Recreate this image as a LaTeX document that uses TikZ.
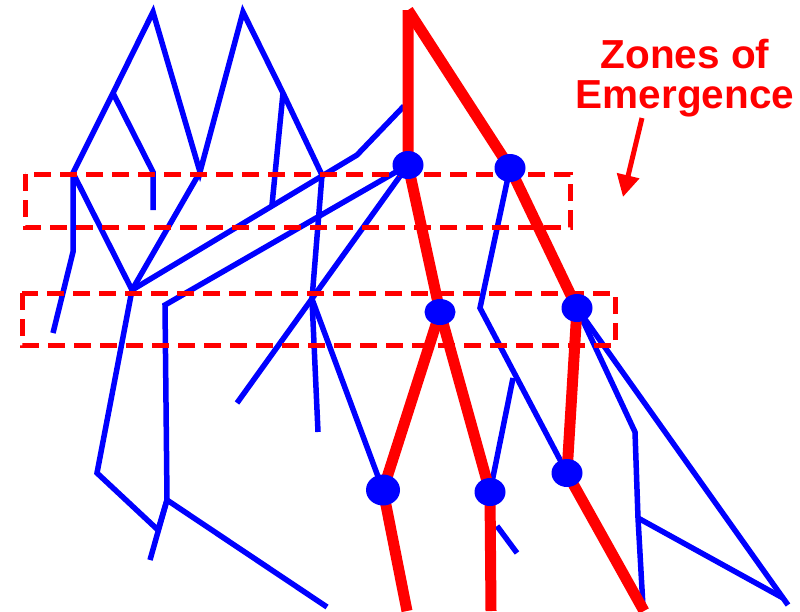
\documentclass[tikz,border=0pt]{standalone}
\usepackage{fontspec}
\setmainfont{Liberation Sans}
\usetikzlibrary{arrows.meta}
\usetikzlibrary{shapes.geometric}
\definecolor{pblue}{RGB}{0,0,255}
\definecolor{pred}{RGB}{255,0,0}
\tikzset{
  bline/.style={draw=pblue, line width=5.5pt},
  rline/.style={draw=pred, line width=11pt},
  zone/.style={draw=pred, line width=5pt, dash pattern=on 17pt off 9pt},
  dot/.style={ellipse, fill=pblue, inner sep=0pt, minimum width=31pt, minimum height=28pt},
  bigdot/.style={dot, minimum width=34pt, minimum height=31pt},
  label/.style={text=pred, font=\bfseries\fontsize{40.5}{40}\selectfont, inner sep=0pt, anchor=base}
}
\begin{document}
\begin{tikzpicture}[x=1pt,y=-1pt]
\useasboundingbox (0,0) rectangle (800,611);
% coordinates
\coordinate (P1) at (153,12);
\coordinate (A1) at (113,93);
\coordinate (A2) at (153,172);
\coordinate (A3) at (153,210);
\coordinate (J1) at (73,173);
\coordinate (J2) at (200,172);
\coordinate (P2) at (243,12);
\coordinate (A4) at (283,93);
\coordinate (A5) at (272,205);
\coordinate (J3) at (322,175);
\coordinate (L1) at (73,252);
\coordinate (L2) at (53,333);
\coordinate (H) at (132,290);
\coordinate (K1) at (357,155);
\coordinate (K2) at (404,106);
\coordinate (M) at (312,299);
\coordinate (M2) at (318,432);
\coordinate (M3) at (237,403);
\coordinate (Q1) at (165,305);
\coordinate (Q2) at (167,500);
\coordinate (Q3) at (150,560);
\coordinate (Q4) at (327,607);
\coordinate (B1) at (97,473);
\coordinate (B2) at (158,530);
\coordinate (R0) at (408,10);
\coordinate (E1) at (407,611);
\coordinate (E2) at (491,611);
\coordinate (E3) at (644,611);
\coordinate (S1) at (480,308);
\coordinate (S2) at (513,378);
\coordinate (S3) at (497,526);
\coordinate (S4) at (517,553);
\coordinate (T1) at (635,432);
\coordinate (T2) at (638,518);
\coordinate (T3) at (643,607);
\coordinate (T4) at (783,598);
\coordinate (T5) at (788,605);
% junction positions for dots
\coordinate (N1) at (408,165);
\coordinate (N2) at (510,168);
\coordinate (N3) at (440,312);
\coordinate (N4) at (577,308);
\coordinate (N5) at (383,490);
\coordinate (N6) at (490,492);
\coordinate (N7) at (567,473);
% blue network
\draw[bline] (L2) -- (L1) -- (J1) -- (A1) -- (P1) -- (J2) -- (P2) -- (A4) -- (J3);
\draw[bline] (A1) -- (A2) -- (A3);
\draw[bline] (A4) -- (A5);
\draw[bline] (J1) -- (H) -- (J2);
\draw[bline] (Q2) -- (B2) -- (B1) -- (H) -- (K1) -- (K2);
\draw[bline] (J3) -- (M) -- (M2);
\draw[bline] (N1) -- (M3);
\draw[bline] (M) -- (N5);
\draw[bline] (N1) -- (Q1) -- (Q2) -- (Q3);
\draw[bline] (Q2) -- (Q4);
\draw[bline] (N2) -- (S1) -- (N7);
\draw[bline] (S2) -- (N6);
\draw[bline] (S3) -- (S4);
\draw[bline] (N4) -- (T1) -- (T2) -- (T3);
\draw[bline] (T2) -- (T4);
\draw[bline] (N4) -- (T5);
% red network
\draw[rline] (R0) -- (N1) -- (N3) -- (N5) -- (E1);
\draw[rline] (R0) -- (N2) -- (N4) -- (N7) -- (E3);
\draw[rline] (N3) -- (N6) -- (E2);
% zones
\draw[zone] (25,174) rectangle (570,227);
\draw[zone] (22,293) rectangle (615,345);
% dots
\node[dot] (d1) at (N1) {};
\node[dot] (d2) at (N2) {};
\node[dot, minimum height=26pt] (d3) at (N3) {};
\node[dot] (d4) at (N4) {};
\node[bigdot] (d5) at (N5) {};
\node[dot] (d6) at (N6) {};
\node[dot] (d7) at (N7) {};
% label
\node[label] (z1) at (685,68) {Zones of};
\node[label] (z2) at (685,108) {Emergence};
\coordinate (ar0) at (642,118);
\coordinate (ar1) at (623,197);
\draw[draw=pred, line width=5pt, -{Triangle[width=22pt,length=22pt]}] (ar0) -- (ar1);
\end{tikzpicture}
\end{document}
